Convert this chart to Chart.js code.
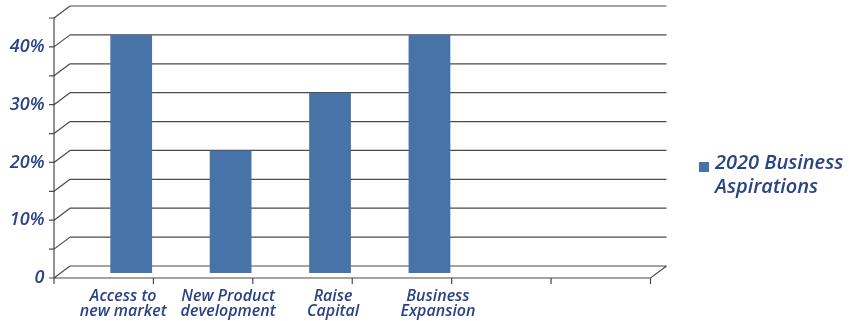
<!DOCTYPE html>
<html>
<head>
<meta charset="utf-8">
<script src="https://cdn.jsdelivr.net/npm/chart.js@4"></script>
<style>
  body { margin: 0; background: #fff; }
</style>
</head>
<body>
<canvas id="chart" width="849" height="321"></canvas>
<script>
// Chart data (percent)
const categories = [
  ["Access to", "new market"],
  ["New Product", "development"],
  ["Raise", "Capital"],
  ["Business", "Expansion"],
  "",
  ""
];
const aspirations2020 = [40, 20, 30, 40, null, null];
const seriesName = "2020 Business Aspirations";
const yMax = 45;
const yStep = 5;

const textColor = "#2a4383";
const barColor = "#4773a8";
const lineColor = "#4a4a4a";
const labelFont = "'Open Sans', sans-serif";

// depth of the fake 3D frame
const depthX = 16;
const depthY = 12;

// Excel style 3D frame: back wall grid, front axes and the diagonals between them
const frame3d = {
  id: "frame3d",
  beforeDatasetsDraw(chart) {
    const { ctx, chartArea } = chart;
    const ys = chart.scales.y;
    const w = (chartArea.right - chartArea.left) / categories.length;
    const frontX = k => chartArea.left + k * w - 27.5;
    const fl = frontX(0), fr = frontX(categories.length);
    const bl = fl + depthX, br = fr + depthX;

    ctx.save();
    ctx.strokeStyle = lineColor;
    ctx.lineWidth = 1.2;
    ctx.beginPath();
    ys.ticks.forEach(t => {
      const yb = ys.getPixelForValue(t.value);
      ctx.moveTo(bl, yb);
      ctx.lineTo(br, yb);
      ctx.moveTo(fl, yb + depthY);
      ctx.lineTo(bl, yb);
      ctx.moveTo(fl - 5, yb + depthY);
      ctx.lineTo(fl, yb + depthY);
    });
    const yTop = ys.getPixelForValue(yMax) + depthY;
    const yZero = ys.getPixelForValue(0) + depthY;
    // front y axis
    ctx.moveTo(fl, yTop);
    ctx.lineTo(fl, yZero + 6);
    // front x axis
    ctx.moveTo(fl, yZero);
    ctx.lineTo(fr, yZero);
    ctx.lineTo(br, yZero - depthY);
    for (let k = 1; k <= categories.length; k++) {
      ctx.moveTo(frontX(k), yZero);
      ctx.lineTo(frontX(k), yZero + 6);
    }
    ctx.stroke();
    ctx.restore();
  },
  afterDraw(chart) {
    const { ctx } = chart;
    const xs = chart.scales.x;
    const ds = chart.data.datasets[0];
    ctx.save();

    // category labels, spread a little wider than the bars like the original
    ctx.font = "italic 600 16px " + labelFont;
    ctx.fillStyle = textColor;
    ctx.textAlign = "center";
    ctx.textBaseline = "middle";
    categories.forEach((lab, i) => {
      const lines = Array.isArray(lab) ? lab : [lab];
      const x = xs.getPixelForValue(i) - 8 + 5.5 * i;
      lines.forEach((l, j) => ctx.fillText(l, x, 296 + j * 15.5));
    });

    // legend on the right, wrapped on two lines
    ctx.font = "italic 600 20px " + labelFont;
    ctx.textAlign = "left";
    ctx.textBaseline = "alphabetic";
    ctx.fillStyle = ds.backgroundColor;
    ctx.fillRect(699, 162, 10, 10);
    ctx.fillStyle = textColor;
    const words = ds.label.split(" ");
    const lines = [];
    let line = "";
    words.forEach(wd => {
      const test = line ? line + " " + wd : wd;
      if (ctx.measureText(test).width > 135 && line) {
        lines.push(line);
        line = wd;
      } else {
        line = test;
      }
    });
    lines.push(line);
    lines.forEach((l, i) => ctx.fillText(l, 715, 169 + i * 24));
    ctx.restore();
  }
};

new Chart(document.getElementById("chart"), {
  type: "bar",
  data: {
    labels: categories,
    datasets: [{
      label: seriesName,
      data: aspirations2020,
      backgroundColor: barColor,
      base: -1.2,
      clip: false,
      categoryPercentage: 1,
      barPercentage: 0.42
    }]
  },
  options: {
    responsive: false,
    animation: false,
    layout: { padding: { top: 6, right: 171, left: 0, bottom: 0 } },
    plugins: {
      legend: { display: false },
      tooltip: { enabled: false }
    },
    scales: {
      x: {
        grid: { display: false, drawTicks: false },
        border: { display: false },
        ticks: { display: false },
        afterFit: s => { s.height = 55; s.paddingLeft = 0; s.paddingRight = 0; }
      },
      y: {
        min: 0,
        max: yMax,
        grid: { display: false, drawTicks: false },
        border: { display: false },
        ticks: {
          stepSize: yStep,
          color: textColor,
          font: { family: labelFont, size: 18, style: "italic", weight: 600 },
          padding: 37,
          labelOffset: 12,
          callback: v => (v % 10 !== 0 ? "" : v === 0 ? "0" : v + "%")
        },
        afterFit: s => { s.width = 81.5; s.paddingTop = 0; s.paddingBottom = 0; }
      }
    }
  },
  plugins: [frame3d]
});
</script>
</body>
</html>
